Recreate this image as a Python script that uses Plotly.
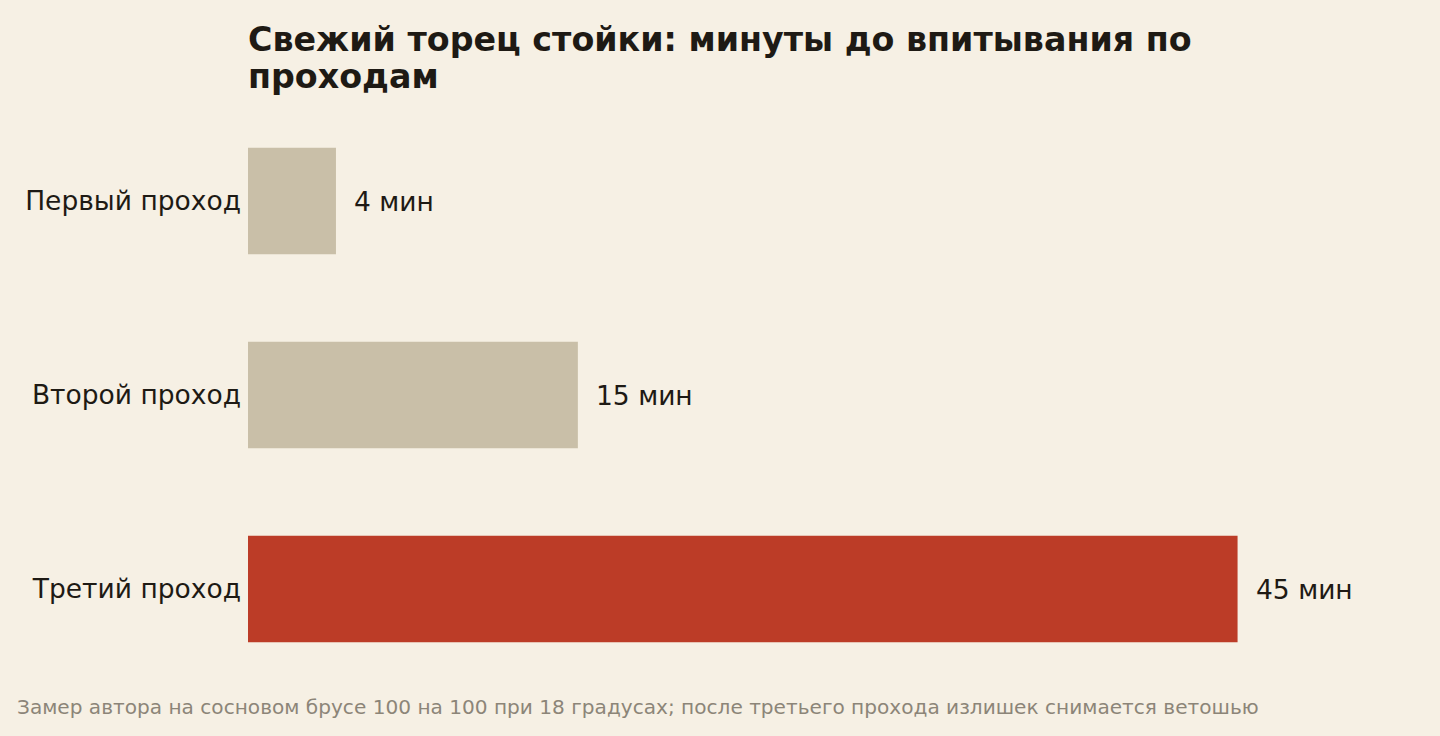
import plotly.graph_objects as go

categories = ["Первый проход", "Второй проход", "Третий проход"]
minutes = [4, 15, 45]
value_labels = ["4 мин", "15 мин", "45 мин"]

title_lines = ["Свежий торец стойки: минуты до впитывания по", "проходам"]
note = "Замер автора на сосновом брусе 100 на 100 при 18 градусах; после третьего прохода излишек снимается ветошью"

bg = "#F6F0E4"
ink = "#1E1A14"
bar_colors = ["#C9BFA8", "#C9BFA8", "#BC3C27"]

# plot area in pixels: x 248..1386.5, y 104..686
PW, PH = 1138.5, 582.0

fig = go.Figure(go.Bar(
    x=minutes,
    y=categories,
    orientation="h",
    marker=dict(color=bar_colors, line=dict(width=0)),
    hoverinfo="skip",
))

annotations = []
for v, c, lab in zip(minutes, categories, value_labels):
    annotations.append(dict(x=v, y=c, xref="x", yref="y", text=lab, showarrow=False,
                            xanchor="left", xshift=16, font=dict(size=26.5, color=ink)))
for line, ypx in zip(title_lines, [40, 77]):
    annotations.append(dict(x=0, y=(686 - ypx) / PH, xref="paper", yref="paper",
                            text="<b>" + line + "</b>", showarrow=False, xshift=-2,
                            xanchor="left", yanchor="middle", font=dict(size=33.3, color=ink)))
annotations.append(dict(x=(17 - 248) / PW, y=-21 / PH, xref="paper", yref="paper",
                        text=note, showarrow=False, xanchor="left", yanchor="middle", xshift=-2,
                        font=dict(size=20.1, color="#8C8578")))

fig.update_layout(
    width=1440,
    height=736,
    paper_bgcolor=bg,
    plot_bgcolor=bg,
    font=dict(family="DejaVu Sans", color=ink),
    margin=dict(l=248, r=53.5, t=104, b=50),
    bargap=0.45,
    showlegend=False,
    annotations=annotations,
)

fig.update_xaxes(range=[0, 51.75], visible=False, fixedrange=True)
fig.update_yaxes(
    autorange="reversed",
    showgrid=False, zeroline=False, showline=False,
    ticks="", ticklabelstandoff=6,
    tickfont=dict(size=26.5, color=ink),
    fixedrange=True,
)

fig.write_html("out.html", config={"displayModeBar": False},
               post_script="document.body.style.margin='0';")
